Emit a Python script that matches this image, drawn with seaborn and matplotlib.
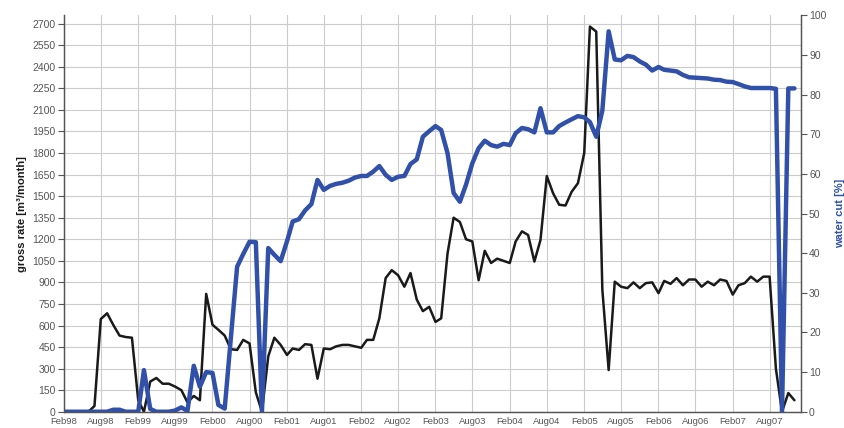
import pandas as pd
import matplotlib
matplotlib.use('Agg')
import matplotlib.pyplot as plt
import seaborn as sns

# monthly data Feb98 .. Dec07
gross_rate = [0, 0, 0, 0, 0, 40, 645, 685, 605, 530,
              520, 515, 80, 0, 210, 235, 195, 195, 175, 150,
              65, 110, 80, 820, 605, 570, 530, 435, 430, 500,
              475, 135, 0, 385, 515, 465, 395, 440, 430, 470,
              465, 230, 440, 435, 455, 465, 465, 455, 445, 500,
              500, 650, 930, 985, 950, 870, 965, 780, 700, 730,
              625, 650, 1100, 1350, 1320, 1200, 1185, 915, 1120, 1035,
              1065, 1050, 1035, 1185, 1255, 1230, 1045, 1195, 1640, 1520,
              1440, 1435, 1530, 1590, 1800, 2680, 2645, 850, 290, 905,
              870, 860, 900, 860, 895, 900, 825, 910, 890, 930,
              880, 920, 920, 870, 905, 880, 920, 910, 815, 880,
              895, 940, 905, 940, 940, 300, 0, 130, 80]

water_cut = [0, 0, 0, 0, 0, 0, 0, 0, 0.5, 0.5,
             0, 0, 0, 10.5, 0.7, 0, 0, 0, 0.3, 1.1,
             0.2, 11.6, 6.3, 10, 9.8, 1.7, 0.8, 18.5, 36.6, 39.8,
             42.9, 42.8, 0, 41.3, 39.6, 38, 43, 48, 48.6, 50.8,
             52.4, 58.5, 56, 57, 57.5, 57.8, 58.3, 59.1, 59.5, 59.5,
             60.6, 62, 59.8, 58.5, 59.3, 59.5, 62.5, 63.7, 69.4, 70.8,
             72.1, 71.1, 65.3, 55.2, 53, 57.3, 62.7, 66.5, 68.4, 67.3,
             66.9, 67.6, 67.3, 70.3, 71.6, 71.3, 70.5, 76.6, 70.5, 70.5,
             72.1, 73, 73.8, 74.6, 74.3, 73.1, 69.4, 76, 96, 88.9,
             88.7, 89.8, 89.5, 88.4, 87.6, 86.1, 87, 86.3, 86.1, 85.9,
             85, 84.4, 84.3, 84.2, 84.1, 83.8, 83.7, 83.3, 83.2, 82.7,
             82.1, 81.7, 81.7, 81.7, 81.7, 81.5, 0, 81.6, 81.6]

months = pd.date_range('1998-02-01', periods=len(gross_rate), freq='MS')
tick_dates = pd.date_range('1998-02-01', '2007-08-01', freq='6MS')
left_ticks = list(range(0, 2701, 150))
right_ticks = list(range(0, 101, 10))

df = pd.DataFrame({'date': months, 'gross': gross_rate, 'wcut': water_cut})

sns.set_style('white')
plt.rcParams['font.family'] = ['Liberation Sans', 'DejaVu Sans']

blue = '#3050aa'
grey_txt = '#555555'

fig, ax = plt.subplots(figsize=(8.45, 4.28), dpi=100)
fig.subplots_adjust(left=0.0757, right=0.9476, bottom=0.038, top=0.9638)
ax2 = ax.twinx()

sns.lineplot(data=df, x='date', y='gross', ax=ax, color='#1a1a1a', linewidth=1.8)
sns.lineplot(data=df, x='date', y='wcut', ax=ax2, color=blue, linewidth=3.2)

ax.set_xlim(pd.Timestamp('1998-02-01'), pd.Timestamp('2008-01-01'))
ax.set_ylim(0, 2757)
ax2.set_ylim(0, 100)

ax.set_xticks(tick_dates)
ax.set_xticklabels([d.strftime('%b%y') for d in tick_dates])
ax.set_yticks(left_ticks)
ax2.set_yticks(right_ticks)

ax.grid(True, color='#cccccc', linewidth=0.8)
ax.set_axisbelow(True)

for a in (ax, ax2):
    a.spines['top'].set_visible(False)
    for s in ('left', 'right', 'bottom'):
        a.spines[s].set_color('#555555')
        a.spines[s].set_linewidth(0.9)
    a.tick_params(axis='y', direction='out', length=4, width=0.8,
                  color='#555555', labelsize=7.5, labelcolor=grey_txt, pad=2)
# x labels sit right at the bottom edge, as in the original
ax.tick_params(axis='x', direction='out', length=2.5, width=0.8,
               color='#555555', labelsize=6.8, labelcolor=grey_txt, pad=1.2)

ax.set_xlabel('')
ax.set_ylabel('gross rate [m³/month]', fontsize=8, fontweight='bold', color='#1a1a1a', labelpad=4)
ax2.set_ylabel('water cut [%]', fontsize=8, fontweight='bold', color=blue, labelpad=6)

fig.savefig('out.png', dpi=100)
